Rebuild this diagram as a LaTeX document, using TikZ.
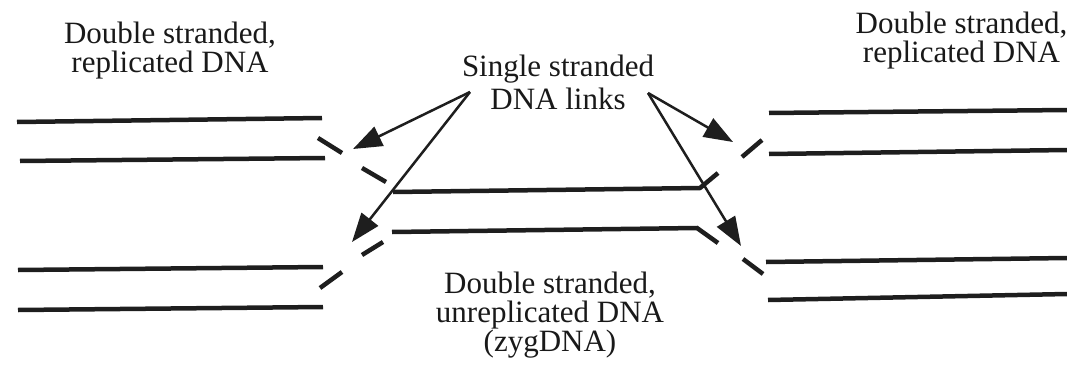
\documentclass[tikz,border=0pt]{standalone}
\usepackage{fontspec}
\setmainfont{Liberation Serif}
\usetikzlibrary{arrows.meta}
\definecolor{ink}{RGB}{30,30,30}
\definecolor{txt}{RGB}{25,25,25}
\tikzset{
  strand/.style={draw=ink, line width=4.5pt},
  pointer/.style={draw=ink, line width=2.5pt,
    -{Triangle[length=29pt, width=21pt]}},
  label/.style={text=txt, align=center, inner sep=0pt, anchor=north,
    font=\fontsize{31}{29}\selectfont},
}
\begin{document}
\begin{tikzpicture}[x=1pt, y=-1pt]
\useasboundingbox (0,0) rectangle (1067,369);

% labels
\node[label] (lblL) at (170,21.8) {Double stranded,\\replicated DNA};
\node[label, font=\fontsize{31}{33}\selectfont] (lblLinks) at (558,54.8) {Single stranded\\DNA links};
\node[label] (lblZyg) at (550,271.8) {Double stranded,\\unreplicated DNA\\(zygDNA)};
\node[label] (lblR) at (961.5,11.8) {Double stranded,\\replicated DNA};

% left replicated duplexes
\draw[strand] (17,122) -- (322,118);
\draw[strand] (20,161) -- (325,158);
\draw[strand] (18,270) -- (323,267);
\draw[strand] (18,310) -- (323,307);

% left single-stranded links
\draw[strand] (318,138) -- (342,153);
\draw[strand] (362,168) -- (386,182);
\draw[strand] (362,255) -- (383,242);
\draw[strand] (320,288) -- (342,272);

% unreplicated duplex in the middle
\draw[strand] (393,192) -- (700,188) -- (718,173);
\draw[strand] (392,232) -- (697,228) -- (718,243);

% right single-stranded links
\draw[strand] (742,157) -- (762,140);
\draw[strand] (743,259) -- (763,274);

% right replicated duplexes
\draw[strand] (769,113) -- (1067,110);
\draw[strand] (769,154) -- (1067,150);
\draw[strand] (766,262) -- (1067,258);
\draw[strand] (768,300) -- (1067,294);

% pointers from the link label
\coordinate (fromL) at (470,92);
\coordinate (fromR) at (648,93);
\coordinate (tipA) at (353,149);
\coordinate (tipB) at (352,242);
\coordinate (tipC) at (733,142);
\coordinate (tipD) at (741,246);
\draw[pointer] (fromL) -- (tipA);
\draw[pointer] (fromL) -- (tipB);
\draw[pointer] (fromR) -- (tipC);
\draw[pointer] (fromR) -- (tipD);
\end{tikzpicture}
\end{document}
